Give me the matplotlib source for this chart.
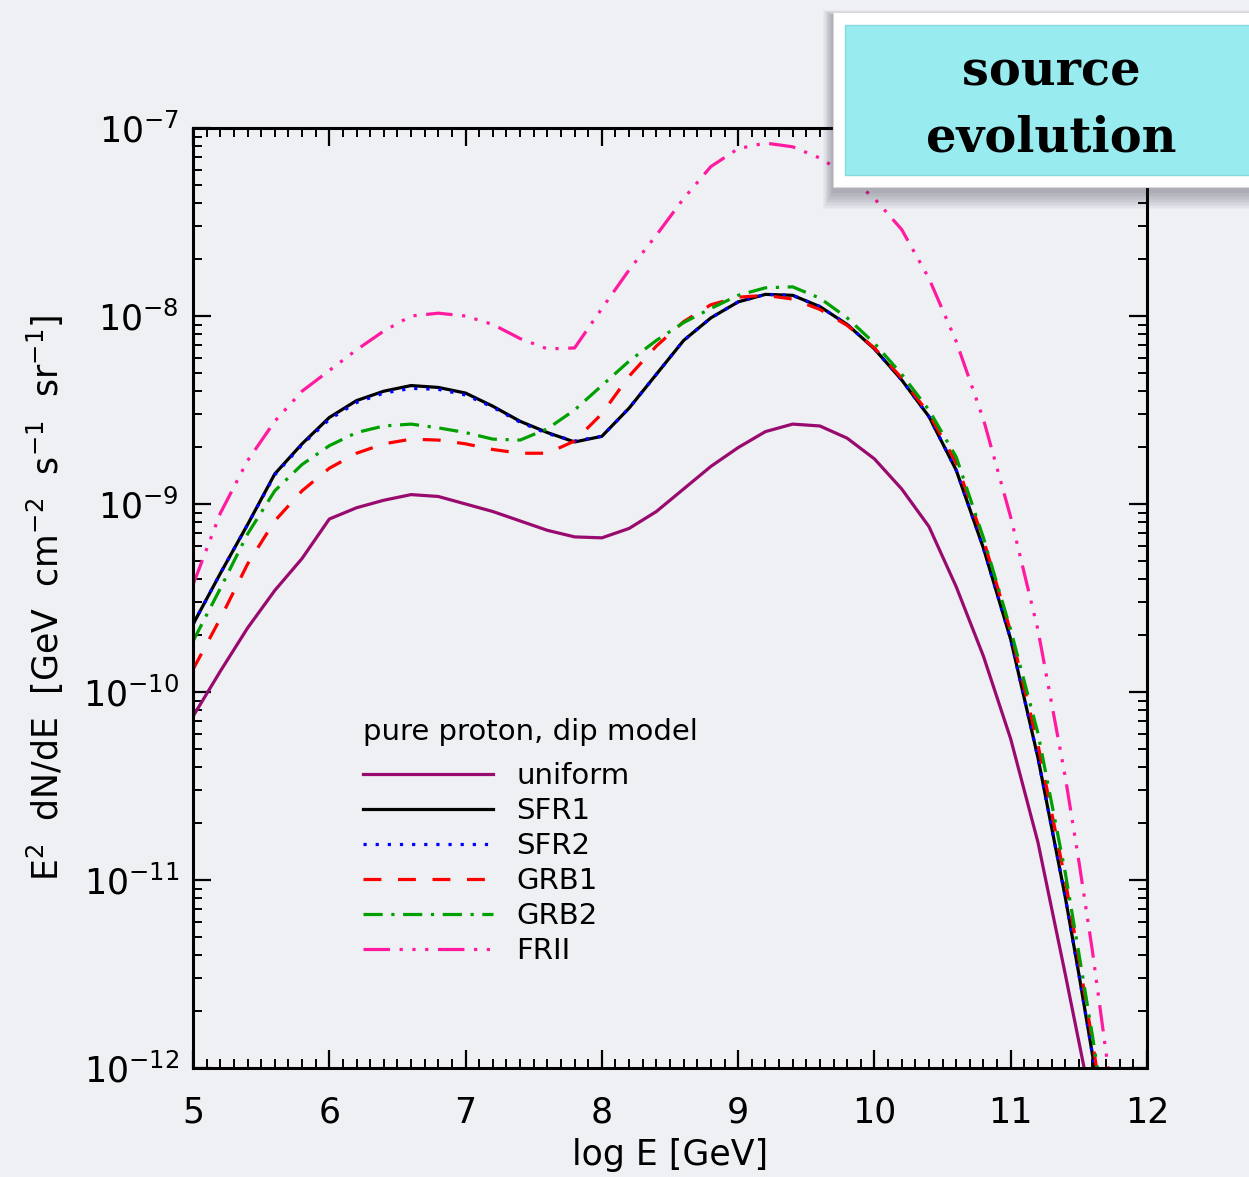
import numpy as np
import matplotlib
matplotlib.use("Agg")
import matplotlib.pyplot as plt
from matplotlib.ticker import MultipleLocator, LogLocator, NullFormatter
from matplotlib.patches import Rectangle

# ---------------------------------------------------------------------------
# Data: log10 of E^2 dN/dE [GeV cm^-2 s^-1 sr^-1] versus log10 E [GeV]
# ---------------------------------------------------------------------------
log_e = [5.0, 5.2, 5.4, 5.6, 5.8, 6.0, 6.2, 6.4, 6.6, 6.8, 7.0, 7.2, 7.4, 7.6,
         7.8, 8.0, 8.2, 8.4, 8.6, 8.8, 9.0, 9.2, 9.4, 9.6, 9.8, 10.0, 10.2,
         10.4, 10.6, 10.8, 11.0, 11.2, 11.4, 11.5, 11.6, 11.7, 11.8]

flux_uniform = [-10.13, -9.89, -9.66, -9.46, -9.29, -9.08, -9.02, -8.98, -8.95,
                -8.96, -9.00, -9.04, -9.09, -9.14, -9.175, -9.18, -9.13, -9.04,
                -8.92, -8.80, -8.70, -8.615, -8.575, -8.585, -8.65, -8.76, -8.92,
                -9.12, -9.44, -9.81, -10.25, -10.80, -11.50, -11.86, -12.22,
                -12.60, -13.00]

flux_sfr1 = [-9.64, -9.37, -9.11, -8.84, -8.68, -8.54, -8.45, -8.40, -8.37,
             -8.38, -8.41, -8.48, -8.56, -8.62, -8.67, -8.64, -8.49, -8.31,
             -8.13, -8.01, -7.925, -7.885, -7.89, -7.95, -8.045, -8.175, -8.34,
             -8.535, -8.82, -9.235, -9.72, -10.35, -11.09, -11.50, -11.93,
             -12.40, -12.90]

flux_sfr2 = [-9.64, -9.37, -9.11, -8.845, -8.685, -8.55, -8.46, -8.41, -8.385,
             -8.39, -8.42, -8.485, -8.565, -8.625, -8.665, -8.64, -8.49, -8.31,
             -8.13, -8.01, -7.925, -7.885, -7.89, -7.95, -8.045, -8.175, -8.34,
             -8.535, -8.82, -9.235, -9.72, -10.35, -11.09, -11.50, -11.93,
             -12.40, -12.90]

flux_grb1 = [-9.88, -9.61, -9.32, -9.09, -8.93, -8.81, -8.73, -8.68, -8.655,
             -8.66, -8.68, -8.71, -8.73, -8.73, -8.665, -8.52, -8.32, -8.16,
             -8.03, -7.94, -7.90, -7.89, -7.91, -7.965, -8.05, -8.17, -8.33,
             -8.52, -8.78, -9.19, -9.68, -10.28, -11.00, -11.42, -11.86,
             -12.33, -12.80]

flux_grb2 = [-9.73, -9.45, -9.16, -8.93, -8.79, -8.69, -8.62, -8.585, -8.575,
             -8.595, -8.62, -8.655, -8.66, -8.60, -8.50, -8.37, -8.24, -8.13,
             -8.035, -7.96, -7.89, -7.85, -7.845, -7.905, -8.01, -8.145, -8.31,
             -8.50, -8.75, -9.18, -9.67, -10.22, -10.96, -11.39, -11.83,
             -12.30, -12.80]

flux_frii = [-9.43, -9.05, -8.77, -8.56, -8.40, -8.29, -8.18, -8.08, -8.00,
             -7.985, -8.00, -8.045, -8.12, -8.175, -8.17, -7.96, -7.755, -7.57,
             -7.375, -7.205, -7.11, -7.08, -7.10, -7.16, -7.25, -7.375, -7.54,
             -7.80, -8.135, -8.55, -9.07, -9.67, -10.45, -10.90, -11.38,
             -11.92, -12.45]

series_labels = ["uniform", "SFR1", "SFR2", "GRB1", "GRB2", "FRII"]
legend_title = "pure proton, dip model"
x_ticks = [5, 6, 7, 8, 9, 10, 11, 12]
panel_title = ["source", "evolution"]

# ---------------------------------------------------------------------------
# Styling
# ---------------------------------------------------------------------------
BG = "#eef0f4"
plt.rcParams["font.family"] = ["DejaVu Sans"]
plt.rcParams["mathtext.fontset"] = "dejavusans"
plt.rcParams["lines.scale_dashes"] = True

line_styles = [
    dict(color="#990a6e", linestyle="-"),
    dict(color="#000000", linestyle="-"),
    dict(color="#0000ff", linestyle=(0, (1, 2.8))),
    dict(color="#ff0000", linestyle=(0, (5.6, 5.2))),
    dict(color="#00a000", linestyle=(0, (6, 2.7, 1, 2.7))),
    dict(color="#ff1aa0", linestyle=(0, (8.3, 3, 1, 3, 1, 3, 1, 3))),
]
series = [flux_uniform, flux_sfr1, flux_sfr2, flux_grb1, flux_grb2, flux_frii]

W, H = 1249, 1177
fig = plt.figure(figsize=(W / 100, H / 100), dpi=100, facecolor=BG)

ax_l, ax_r, ax_t, ax_b = 193, 1147, 128, 1068
ax = fig.add_axes([ax_l / W, 1 - ax_b / H, (ax_r - ax_l) / W, (ax_b - ax_t) / H])
ax.set_facecolor(BG)

x = np.array(log_e)
handles = []
for vals, st, lab in zip(series, line_styles, series_labels):
    (ln,) = ax.plot(x, 10.0 ** np.array(vals), lw=2.3, dash_capstyle="butt",
                    label=lab, **st)
    handles.append(ln)

ax.set_yscale("log")
ax.set_xlim(5, 12)
ax.set_ylim(1e-12, 1e-7)
ax.set_xticks(x_ticks)
ax.xaxis.set_minor_locator(MultipleLocator(0.1))
ax.yaxis.set_major_locator(LogLocator(base=10, numticks=20))
ax.yaxis.set_minor_locator(LogLocator(base=10, subs=np.arange(2, 10), numticks=20))
ax.yaxis.set_minor_formatter(NullFormatter())

for sp in ax.spines.values():
    sp.set_linewidth(2.2)
ax.tick_params(which="both", direction="in", top=True, right=True)
ax.tick_params(which="major", length=13, width=1.6, labelsize=25)
ax.tick_params(which="minor", length=6.5, width=1.4)
ax.tick_params(axis="x", which="major", pad=20)
ax.tick_params(axis="y", which="major", pad=10)

ax.set_xlabel("log E [GeV]", fontsize=25, labelpad=6)
ax.set_ylabel("E$^2$  dN/dE  [GeV  cm$^{-2}$  s$^{-1}$  sr$^{-1}$]", fontsize=25,
              labelpad=12)

# Legend: title as its own text line, entries below it
ax.text(0.178, 0.3575, legend_title, transform=ax.transAxes, fontsize=21,
        ha="left", va="center")
leg = ax.legend(handles=handles, loc="upper left",
                bbox_to_anchor=(0.178, 0.3255), frameon=False, fontsize=21,
                handlelength=4.45, handletextpad=0.82,
                labelspacing=0.24, borderpad=0, borderaxespad=0)

# ---------------------------------------------------------------------------
# Header card in the upper right corner
# ---------------------------------------------------------------------------
def fx(px):
    return px / W


def fy(py):
    return 1 - py / H


box_l, box_t, box_r, box_b = 833, 12, 1262, 187
for k in range(12, 0, -1):
    fig.add_artist(Rectangle((fx(box_l - k * 0.8), fy(box_b + 4 + k * 1.5)),
                             fx(box_r - box_l + 2 * k), (box_b - box_t + k * 2.0) / H,
                             transform=fig.transFigure, facecolor="#303040",
                             edgecolor="none", alpha=0.03, zorder=5))
fig.add_artist(Rectangle((fx(box_l), fy(box_b)), fx(box_r - box_l),
                         (box_b - box_t) / H, transform=fig.transFigure,
                         facecolor="white", edgecolor="#d8d8dc", lw=0.8, zorder=6))
fig.add_artist(Rectangle((fx(845), fy(175)), fx(box_r - 845), (175 - 25) / H,
                         transform=fig.transFigure, facecolor="#98ebee",
                         edgecolor="#86d9dd", lw=1.0, zorder=7))
fig.text(fx(1051), fy(72), panel_title[0], ha="center", va="center",
         fontsize=34.5, fontweight="bold", family="DejaVu Serif", zorder=8)
fig.text(fx(1051), fy(138), panel_title[1], ha="center", va="center",
         fontsize=34.5, fontweight="bold", family="DejaVu Serif", zorder=8)

fig.savefig("out.png", dpi=100, facecolor=BG)
